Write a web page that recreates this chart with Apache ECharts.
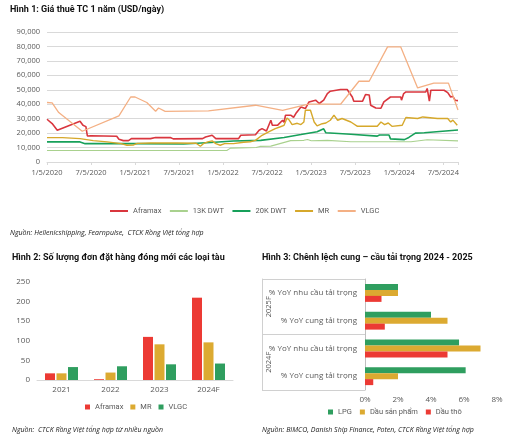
<!DOCTYPE html>
<html><head><meta charset="utf-8">
<script src="https://cdn.jsdelivr.net/npm/echarts@6/dist/echarts.min.js"></script>
<style>
html,body{margin:0;padding:0;background:#fff;width:512px;height:442px;overflow:hidden}
#c1{position:absolute;left:0;top:0;width:512px;height:245px}
#c2{position:absolute;left:0;top:245px;width:250px;height:197px}
#c3{position:absolute;left:250px;top:245px;width:262px;height:197px}
</style></head><body>
<div id="c1"></div><div id="c2"></div><div id="c3"></div>
<script>
// ---------- Chart 1 data: [months since 1/5/2020, USD/day] ----------
const dateTicks = ['1/5/2020','7/5/2020','1/5/2021','7/5/2021','1/5/2022','7/5/2022','1/5/2023','7/5/2023','1/5/2024','7/5/2024'];
const lineNames = ['Aframax','13K DWT','20K DWT','MR','VLGC'];
const aframax = [[0,29600],[0.7,26600],[1.4,22000],[4.5,28200],[4.9,25400],[5.3,24500],[5.5,18000],[6.0,18200],[9.5,17800],[9.8,15800],[10.4,14800],[11.1,14800],[11.5,16200],[14.1,16200],[14.8,16900],[16.8,16900],[17.2,16000],[21.2,16200],[21.6,17300],[22.5,18500],[23.0,16200],[26.1,16200],[26.4,18500],[28.4,18900],[28.9,22000],[29.3,23100],[29.9,21500],[30.5,28900],[30.7,25400],[31.4,25400],[32.1,28900],[32.3,27500],[32.5,32400],[33.2,32400],[33.6,31000],[33.9,33500],[34.6,38100],[35.2,37000],[35.7,41600],[36.6,42800],[37.1,40500],[37.7,42800],[38.2,47400],[38.6,49000],[40.0,50200],[40.9,50200],[41.6,45000],[41.8,42100],[43.0,42100],[43.4,46700],[43.9,46400],[44.1,39300],[44.8,37400],[45.5,37200],[45.9,41600],[46.8,45000],[48.2,45000],[48.3,42800],[48.6,47400],[48.9,48500],[51.6,48500],[51.8,50900],[52.1,42100],[52.3,49700],[54.1,49700],[54.6,48000],[55.0,45000],[55.3,45500],[55.6,42800],[56.0,42500]];
const dwt13k = [[0,8000],[24.5,8000],[25.0,9600],[28.5,10000],[29.0,10800],[30.5,11000],[33.2,14800],[35.0,15000],[35.5,15600],[36.0,14700],[38.2,15000],[41.4,14000],[49.6,14000],[51.8,15400],[56.0,14600]];
const dwt20k = [[0,13900],[4.5,13900],[5.2,12700],[11.8,12700],[18.6,12500],[22.3,13500],[25.4,14500],[29.1,15000],[32.3,17000],[34.6,19000],[36.8,21000],[37.7,23000],[38.0,20200],[41.4,19200],[45.0,17900],[45.3,18700],[46.6,18700],[46.8,16000],[48.7,15500],[49.3,17000],[50.2,20000],[51.4,20300],[56.0,22200]];
const mr = [[0,16900],[2.1,16900],[4.5,16200],[6.3,14800],[8.2,13900],[10.1,12700],[10.9,11600],[11.8,11800],[12.3,12900],[14.1,13200],[17.7,13200],[20.3,13000],[20.9,10900],[21.3,12700],[21.9,13900],[22.5,14600],[23.0,12700],[23.6,11600],[24.2,12700],[25.4,12700],[26.8,13700],[27.7,14000],[28.4,15000],[29.3,18500],[30.2,20800],[31.1,23100],[31.8,24400],[32.3,25400],[32.7,30500],[33.0,29000],[33.4,25900],[34.1,26800],[34.6,25900],[35.0,27700],[35.2,35800],[35.9,35800],[36.4,27700],[36.8,25000],[37.5,26500],[38.0,27000],[38.6,28900],[39.1,32400],[39.6,28900],[40.2,30100],[41.4,27700],[42.3,24700],[45.0,24700],[45.5,27700],[46.0,25900],[46.5,27000],[47.0,24700],[48.4,25400],[48.9,30800],[50.5,30100],[51.2,31200],[53.2,30100],[54.6,30100],[55.0,27700],[55.3,29000],[55.9,25400]];
const vlgc = [[0,41200],[0.7,41000],[1.6,34200],[4.8,21300],[9.8,31900],[11.4,45000],[12.0,45000],[13.6,41200],[14.8,35100],[15.2,37400],[16.1,35100],[22.0,35400],[28.4,39300],[32.1,35800],[35.6,40000],[40.0,40000],[42.5,55900],[43.9,55900],[46.4,79700],[48.2,79700],[50.5,51300],[52.7,54600],[54.7,54600],[56.0,36000]];

// ---------- Chart 2 data ----------
const years = ['2021','2022','2023','2024F'];
const ordersAframax = [17, 2, 110, 210];
const ordersMR = [17, 19, 91, 96];
const ordersVLGC = [33, 35, 40, 42];

// ---------- Chart 3 data (bottom to top) ----------
const gapGroups = ['2024F','2025F'];
const gapCats = ['2024F|% YoY cung tải trọng','2024F|% YoY nhu cầu tải trọng','2025F|% YoY cung tải trọng','2025F|% YoY nhu cầu tải trọng'];
const gapLPG = [6.1, 5.7, 4.0, 2.0];
const gapProduct = [2.0, 7.0, 5.0, 2.0];
const gapCrude = [0.5, 5.0, 1.2, 1.0];

const FONT = "'Open Sans', 'Noto Sans', sans-serif";
const TFONT = "Roboto, 'Open Sans', sans-serif";
const AX = '#595959';
const GRIDC = '#d9d9d9';
const titleStyle = {fontSize: 9, fontWeight: 'bold', color: '#111', fontFamily: TFONT};
const srcStyle = {fontSize: 7, fontStyle: 'italic', fontWeight: 'normal', color: '#222', fontFamily: FONT};
const legText = {fontSize: 7.5, color: AX, fontFamily: TFONT};

// ===== Chart 1 =====
const c1 = echarts.init(document.getElementById('c1'));
const lineColors = ['#d9363e','#a9d18e','#17a05a','#d6a82b','#f4b084'];
const lineWidths = [1.6, 1.1, 1.6, 1.4, 1.3];
const lineData = [aframax, dwt13k, dwt20k, mr, vlgc];
c1.setOption({
  animation: false,
  textStyle: {fontFamily: FONT},
  title: [
    {text: 'Hình 1: Giá thuê TC 1 năm (USD/ngày)', left: 10, top: 5, padding: 0, textStyle: titleStyle},
    {text: 'Nguồn: Hellenicshipping, Fearnpulse,  CTCK Rồng Việt tổng hợp', left: 10, top: 229, padding: 0, textStyle: srcStyle}
  ],
  legend: {
    data: lineNames, left: 110, top: 207, padding: 0, icon: 'rect', itemWidth: 18, itemHeight: 2, itemGap: 8.5,
    textStyle: legText
  },
  grid: {left: 47, right: 54, top: 32, height: 130},
  xAxis: {
    type: 'value', min: 0, max: 56, interval: 6,
    splitLine: {show: false},
    axisLine: {show: true, lineStyle: {color: GRIDC}},
    axisTick: {show: true, length: 3, lineStyle: {color: GRIDC}},
    axisLabel: {fontSize: 7.5, color: AX, margin: 7, fontFamily: FONT,
      formatter: v => (v % 6 === 0 ? dateTicks[v / 6] : '')}
  },
  yAxis: {
    type: 'value', min: 0, max: 90000, interval: 10000,
    axisLine: {show: false}, axisTick: {show: false},
    splitLine: {lineStyle: {color: GRIDC}},
    axisLabel: {fontSize: 7.5, color: AX, margin: 7, fontFamily: FONT,
      formatter: v => v.toLocaleString('en-US')}
  },
  series: lineNames.map((n, i) => ({
    name: n, type: 'line', data: lineData[i], showSymbol: false, symbol: 'none',
    color: lineColors[i], lineStyle: {width: lineWidths[i], color: lineColors[i]}
  }))
});

// ===== Chart 2 =====
const c2 = echarts.init(document.getElementById('c2'));
const barColors2 = ['#ec3a34','#dcaa31','#2f9e5f'];
c2.setOption({
  animation: false,
  textStyle: {fontFamily: FONT},
  title: [
    {text: 'Hình 2: Số lượng đơn đặt hàng đóng mới các loại tàu', left: 12, top: 8, padding: 0, textStyle: titleStyle},
    {text: 'Nguồn:  CTCK Rồng Việt tổng hợp từ nhiều nguồn', left: 12, top: 181, padding: 0, textStyle: srcStyle}
  ],
  legend: {
    data: ['Aframax','MR','VLGC'], left: 85, top: 158, padding: 0, icon: 'rect', itemWidth: 5, itemHeight: 5, itemGap: 7,
    textStyle: legText
  },
  grid: {left: 37, right: 17, top: 37, height: 98},
  xAxis: {
    type: 'category', data: years,
    axisLine: {show: true, lineStyle: {color: GRIDC}}, axisTick: {show: false},
    axisLabel: {fontSize: 8, color: AX, margin: 6, fontFamily: FONT}
  },
  yAxis: {
    type: 'value', min: 0, max: 250, interval: 50,
    splitLine: {show: false}, axisLine: {show: false}, axisTick: {show: false},
    axisLabel: {fontSize: 8, color: AX, margin: 7, fontFamily: FONT}
  },
  series: [
    {name: 'Aframax', type: 'bar', data: ordersAframax, barWidth: 10, barGap: '15%', color: barColors2[0]},
    {name: 'MR', type: 'bar', data: ordersMR, barWidth: 10, barGap: '15%', color: barColors2[1]},
    {name: 'VLGC', type: 'bar', data: ordersVLGC, barWidth: 10, barGap: '15%', color: barColors2[2]}
  ]
});

// ===== Chart 3 =====
const c3 = echarts.init(document.getElementById('c3'));
const barColors3 = ['#2f9e5f','#dcaa31','#ec3a34'];
c3.setOption({
  animation: false,
  textStyle: {fontFamily: FONT},
  title: [
    {text: 'Hình 3: Chênh lệch cung – cầu tải trọng 2024 - 2025', left: 12, top: 8, padding: 0, textStyle: titleStyle},
    {text: 'Nguồn: BIMCO, Danish Ship Finance, Poten, CTCK Rồng Việt tổng hợp', left: 12, top: 181, padding: 0, textStyle: srcStyle}
  ],
  legend: {
    data: ['LPG','Dầu sản phẩm','Dầu thô'], left: 78, top: 163, padding: 0, icon: 'rect', itemWidth: 5, itemHeight: 5, itemGap: 8,
    textStyle: legText
  },
  grid: {left: 115, right: 15, top: 34, height: 111},
  xAxis: {
    type: 'value', min: 0, max: 8, interval: 2,
    splitLine: {show: false}, axisLine: {show: false}, axisTick: {show: false},
    axisLabel: {fontSize: 8, color: AX, margin: 6, formatter: '{value}%', fontFamily: FONT}
  },
  yAxis: [
    {
      type: 'category', data: gapCats,
      axisLine: {show: true, lineStyle: {color: '#bfbfbf'}}, axisTick: {show: false},
      axisLabel: {fontSize: 8, color: AX, margin: 8, fontFamily: FONT, formatter: v => v.split('|')[1]}
    },
    {
      type: 'category', data: gapGroups, position: 'left', offset: 103,
      axisLine: {show: true, lineStyle: {color: '#d0d0d0'}},
      axisTick: {show: true, inside: true, length: 103, lineStyle: {color: '#d0d0d0'}},
      axisLabel: {inside: true, rotate: 90, fontSize: 7.5, color: AX, margin: 3, fontFamily: FONT}
    }
  ],
  series: [
    {name: 'LPG', type: 'bar', data: gapLPG, barWidth: 6, barGap: '0%', color: barColors3[0]},
    {name: 'Dầu sản phẩm', type: 'bar', data: gapProduct, barWidth: 6, barGap: '0%', color: barColors3[1]},
    {name: 'Dầu thô', type: 'bar', data: gapCrude, barWidth: 6, barGap: '0%', color: barColors3[2]}
  ]
});
</script></body></html>
